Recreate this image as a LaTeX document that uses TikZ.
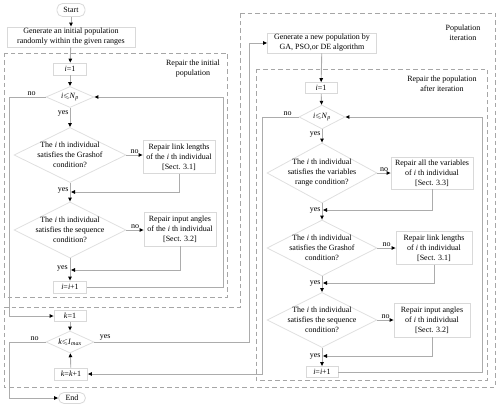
\documentclass[tikz,border=0pt]{standalone}
\usepackage{fontspec}
\setmainfont{Liberation Serif}
\usepackage{amsmath}
\usepackage{amssymb}
\usetikzlibrary{arrows.meta, shapes.geometric}

\begin{document}
\begin{tikzpicture}[
          x=1pt, y=-1pt,
          font=\fontsize{8}{10}\selectfont,
          >={Triangle[length=4pt,width=3.5pt,color=black]},
          box/.style={draw=gray!30, line width=0.8pt, align=center, inner sep=1pt},
          term/.style={draw=gray!30, line width=0.8pt, rounded corners=5.5pt, inner sep=1pt},
          dia/.style={diamond, draw=gray!25, line width=0.8pt, inner sep=0pt},
          dtext/.style={align=center, inner sep=0pt},
          line/.style={draw=gray!65, line width=0.9pt},
          zone/.style={draw=gray!70, line width=0.8pt, dash pattern=on 4.5pt off 3pt},
          lab/.style={inner sep=1pt}
        ]
        \useasboundingbox (0,0) rectangle (500,409);
        % dashed zones
        \draw [zone] (4,53) rectangle (227,297);
        \draw [zone] (240,13) -- (495,13) -- (495,387) -- (4,387) -- (4,307) -- (240,307) -- cycle;
        \draw [zone] (256,69) rectangle (487,380);
        \node [align=center] (zL) at (193,69) {Repair the initial\\population};
        \node [align=center] (zP) at (463,33) {Population\\iteration};
        \node [align=center] (zR) at (442,84) {Repair the population\\after iteration};
        % left column
        \node [term, minimum width=28pt, minimum height=13pt] (start) at (71,10) {Start};
        \node [box, minimum width=128pt, minimum height=20pt] (gen0) at (71,37) {Generate an initial population\\randomly within the given ranges};
        \node [box, minimum width=33pt, minimum height=12pt] (i1L) at (70,69) {\textit{i}=1};
        \node [dia, minimum width=48pt, minimum height=21pt] (dL) at (70,97) {};
        \node [dtext] (dLt) at (dL) {\textit{i}$\leqslant$\textit{N}\textsubscript{\textit{p}}};
        \node [dia, minimum width=112pt, minimum height=55pt] (dL1) at (70,155) {};
        \node [dtext] (dL1t) at (dL1) {The \textit{i} th individual\\satisfies the Grashof\\condition?};
        \node [box, minimum width=72pt, minimum height=33pt] (rL1) at (179,157) {Repair link lengths\\of the \textit{i} th individual\\{[}Sect. 3.1{]}};
        \node [dia, minimum width=112pt, minimum height=56pt] (dL2) at (70,230) {};
        \node [dtext] (dL2t) at (dL2) {The \textit{i} th individual\\satisfies the sequence\\condition?};
        \node [box, minimum width=72pt, minimum height=34pt] (rL2) at (180,229) {Repair input angles\\of the \textit{i} th individual\\{[}Sect. 3.2{]}};
        \node [box, minimum width=33pt, minimum height=12pt] (iiL) at (70,287) {\textit{i}=\textit{i}+1};
        \node [box, minimum width=32pt, minimum height=11pt] (k1) at (70,316) {\textit{k}=1};
        \node [dia, minimum width=48pt, minimum height=22pt] (dK) at (70,342) {};
        \node [dtext] (dKt) at (dK) {\textit{k}$\leqslant$\textit{I}\textsubscript{\textit{max}}};
        \node [box, minimum width=33pt, minimum height=12pt] (kk) at (71,374) {\textit{k}=\textit{k}+1};
        \node [term, minimum width=27pt, minimum height=11pt] (end) at (72,398) {End};
        % right column
        \node [box, minimum width=109pt, minimum height=20pt] (gen1) at (322,43) {Generate a new population by\\GA, PSO,or DE algorithm};
        \node [box, minimum width=32pt, minimum height=11pt] (i1R) at (321,88) {\textit{i}=1};
        \node [dia, minimum width=46pt, minimum height=24pt] (dR) at (322,117) {};
        \node [dtext] (dRt) at (dR) {\textit{i}$\leqslant$\textit{N}\textsubscript{\textit{p}}};
        \node [dia, minimum width=110pt, minimum height=60pt] (dR1) at (322,173) {};
        \node [dtext] (dR1t) at (dR1) {The \textit{i} th individual\\satisfies the variables\\range condition?};
        \node [box, minimum width=82pt, minimum height=32pt] (rR1) at (432,173) {Repair all the variables\\of \textit{i} th individual\\{[}Sect. 3.3{]}};
        \node [dia, minimum width=110pt, minimum height=56pt] (dR2) at (322,248) {};
        \node [dtext] (dR2t) at (dR2) {The \textit{i} th individual\\satisfies the Grashof\\condition?};
        \node [box, minimum width=76pt, minimum height=33pt] (rR2) at (434,248) {Repair link lengths\\of \textit{i} th individual\\{[}Sect. 3.1{]}};
        \node [dia, minimum width=110pt, minimum height=55pt] (dR3) at (322,320) {};
        \node [dtext] (dR3t) at (dR3) {The \textit{i} th individual\\satisfies the sequence\\condition?};
        \node [box, minimum width=76pt, minimum height=34pt] (rR3) at (432,320) {Repair input angles\\of \textit{i} th individual\\{[}Sect. 3.2{]}};
        \node [box, minimum width=32pt, minimum height=11pt] (iiR) at (322,372) {\textit{i}=\textit{i}+1};
        % turning points
        \coordinate (mL1) at (71,192);
        \coordinate (mL2) at (71,270);
        \coordinate (backL) at (223,97);
        \coordinate (noL) at (9,97);
        \coordinate (noK) at (9,342);
        \coordinate (yesK) at (249,342);
        \coordinate (mR1) at (323,210);
        \coordinate (mR2) at (323,283);
        \coordinate (mR3) at (323,356);
        \coordinate (backR) at (482,117);
        \coordinate (noR) at (262,117);
        % left connectors
        \draw [line,->] (start) -- (gen0);
        \draw [line,->] (gen0) -- (i1L);
        \draw [line,->] (i1L) -- (dL);
        \draw [line,->] (dL) -- node [lab, left, pos=0.3] {yes} (dL1);
        \draw [line,->] (dL1.east) -- node [lab, above] {no} (dL1.east -| rL1.west);
        \draw [line,->] (rL1.south) |- (mL1);
        \draw [line,->] (dL1) -- node [lab, left, pos=0.4] {yes} (dL2);
        \draw [line,->] (dL2.east) -- node [lab, above] {no} (dL2.east -| rL2.west);
        \draw [line,->] (rL2.south) |- (mL2);
        \draw [line,->] (dL2) -- (iiL);
        \node [lab, left] (yL2) at (69,268) {yes};
        \draw [line,->] (iiL.east) -| (backL) -- (dL.east);
        \draw [line,->] (dL.west) -- node [lab, above, pos=0.38] {no} (noL) |- (k1.west);
        \draw [line,->] (k1) -- (dK);
        \draw [line,->] (kk) -- (dK);
        \draw [line,->] (dK.west) -- node [lab, above, pos=0.3] {no} (noK) |- (end.west);
        \draw [line,->] (dK.east) -- node [lab, above, pos=0.07] {yes} (yesK) |- (gen1.west);
        % right connectors
        \draw [line,->] (gen1) -- (i1R);
        \draw [line,->] (i1R) -- (dR);
        \draw [line,->] (dR) -- node [lab, left, pos=0.35] {yes} (dR1);
        \draw [line,->] (dR1.east) -- node [lab, above] {no} (dR1.east -| rR1.west);
        \draw [line,->] (rR1.south) |- (mR1);
        \draw [line,->] (dR1) -- node [lab, left, pos=0.45] {yes} (dR2);
        \draw [line,->] (dR2.east) -- node [lab, above] {no} (dR2.east -| rR2.west);
        \draw [line,->] (rR2.south) |- (mR2);
        \draw [line,->] (dR2) -- node [lab, left, pos=0.45] {yes} (dR3);
        \draw [line,->] (dR3.east) -- node [lab, above] {no} (dR3.east -| rR3.west);
        \draw [line,->] (rR3.south) |- (mR3);
        \draw [line,->] (dR3) -- node [lab, left, pos=0.45] {yes} (iiR);
        \draw [line,->] (iiR.east) -| (backR) -- (dR.east);
        \draw [line,->] (dR.west) -- node [lab, above, pos=0.3] {no} (noR) |- (kk.east);
        \end{tikzpicture}
\end{document}
